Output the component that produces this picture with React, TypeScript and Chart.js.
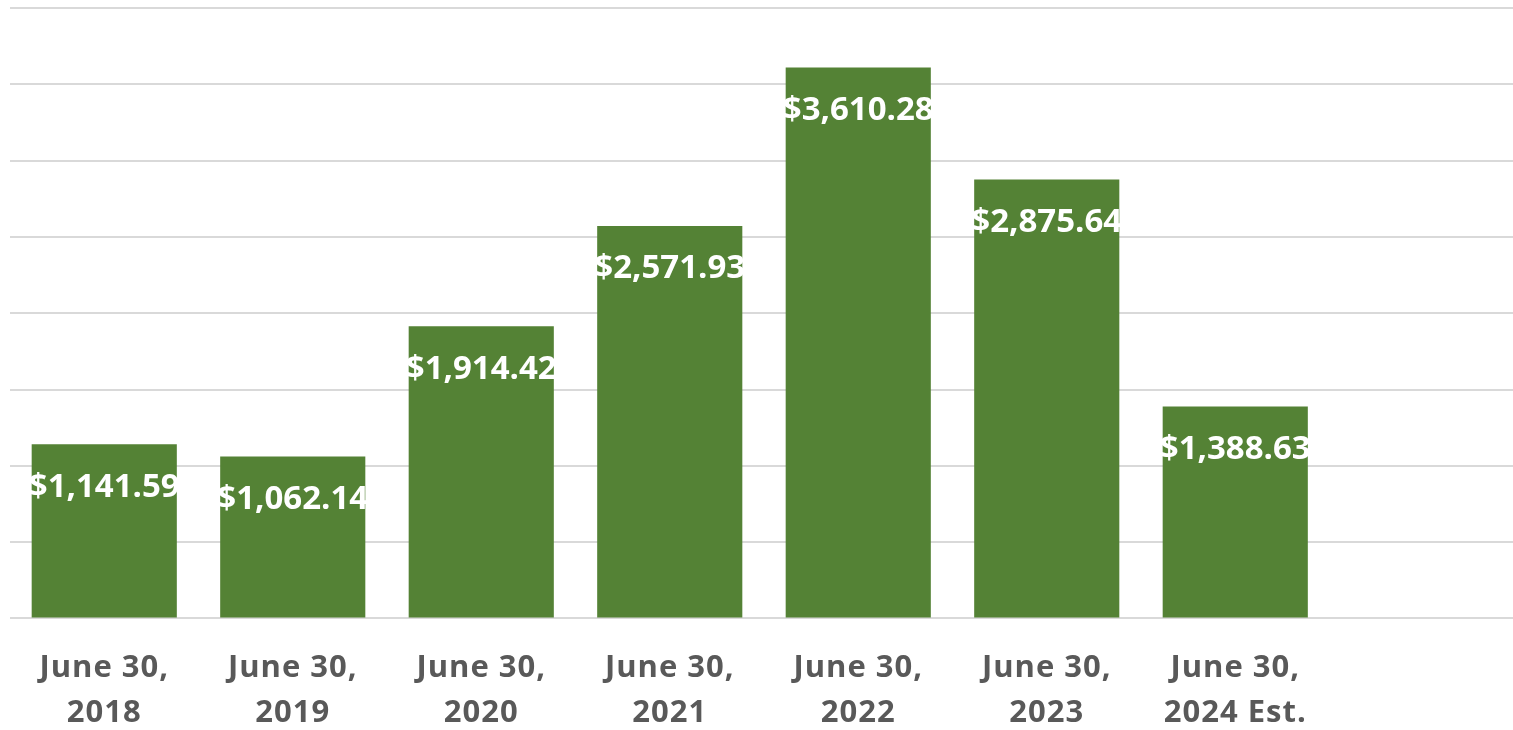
import React, { useEffect, useRef } from "react";
import { Chart, registerables } from "chart.js";

Chart.register(...registerables);

const categories: string[][] = [
  ["June 30,", "2018"],
  ["June 30,", "2019"],
  ["June 30,", "2020"],
  ["June 30,", "2021"],
  ["June 30,", "2022"],
  ["June 30,", "2023"],
  ["June 30,", "2024 Est."],
  [""],
];
const values: (number | null)[] = [1141.59, 1062.14, 1914.42, 2571.93, 3610.28, 2875.64, 1388.63, null];
const yMin = 0;
const yMax = 4000;
const yStep = 500;

const FONT = "'Open Sans', Lato, sans-serif";

const fmt = (v: number) =>
  "$" + v.toLocaleString("en-US", { minimumFractionDigits: 2, maximumFractionDigits: 2 });

const spacingPlugin = {
  id: "letterSpacing",
  beforeUpdate(chart: any) {
    chart.ctx.letterSpacing = "1px";
  },
  beforeDraw(chart: any) {
    chart.ctx.letterSpacing = "1px";
  },
};

const labelPlugin = {
  id: "barLabels",
  afterDatasetsDraw(chart: any) {
    const ctx = chart.ctx;
    const meta = chart.getDatasetMeta(0);
    ctx.save();
    ctx.letterSpacing = "0px";
    ctx.fillStyle = "#ffffff";
    ctx.font = `bold 33px ${FONT}`;
    ctx.textAlign = "center";
    ctx.textBaseline = "middle";
    meta.data.forEach((bar: any, i: number) => {
      const v = values[i];
      if (v == null) return;
      ctx.fillText(fmt(v), bar.x, bar.y + 43);
    });
    ctx.restore();
  },
};

export default function App() {
  const ref = useRef<HTMLCanvasElement>(null);
  useEffect(() => {
    if (!ref.current) return;
    const chart = new Chart(ref.current, {
      type: "bar",
      data: {
        labels: categories,
        datasets: [
          {
            data: values,
            backgroundColor: "#548235",
            categoryPercentage: 1,
            barPercentage: 0.77,
          },
        ],
      },
      options: {
        responsive: false,
        animation: false,
        layout: { padding: { left: 10, right: 0, top: 8, bottom: 0 } },
        plugins: { legend: { display: false }, tooltip: { enabled: false } },
        scales: {
          x: {
            grid: { display: false, drawTicks: false },
            border: { display: false },
            ticks: {
              color: "#595959",
              font: { family: FONT, size: 31, weight: "bold", lineHeight: 1.46 },
              padding: 27,
              maxRotation: 0,
              autoSkip: false,
            },
          },
          y: {
            min: yMin,
            max: yMax,
            ticks: { display: false, stepSize: yStep },
            grid: { color: "#d9d9d9", lineWidth: 2, drawTicks: false },
            border: { display: false },
          },
        },
      },
      plugins: [spacingPlugin, labelPlugin],
    });
    return () => chart.destroy();
  }, []);
  return (
    <div style={{ position: "fixed", left: 0, top: 0, width: 1513, height: 730, overflow: "hidden", background: "#fff" }}>
      <canvas ref={ref} width={1518} height={763} style={{ display: "block" }} />
    </div>
  );
}
